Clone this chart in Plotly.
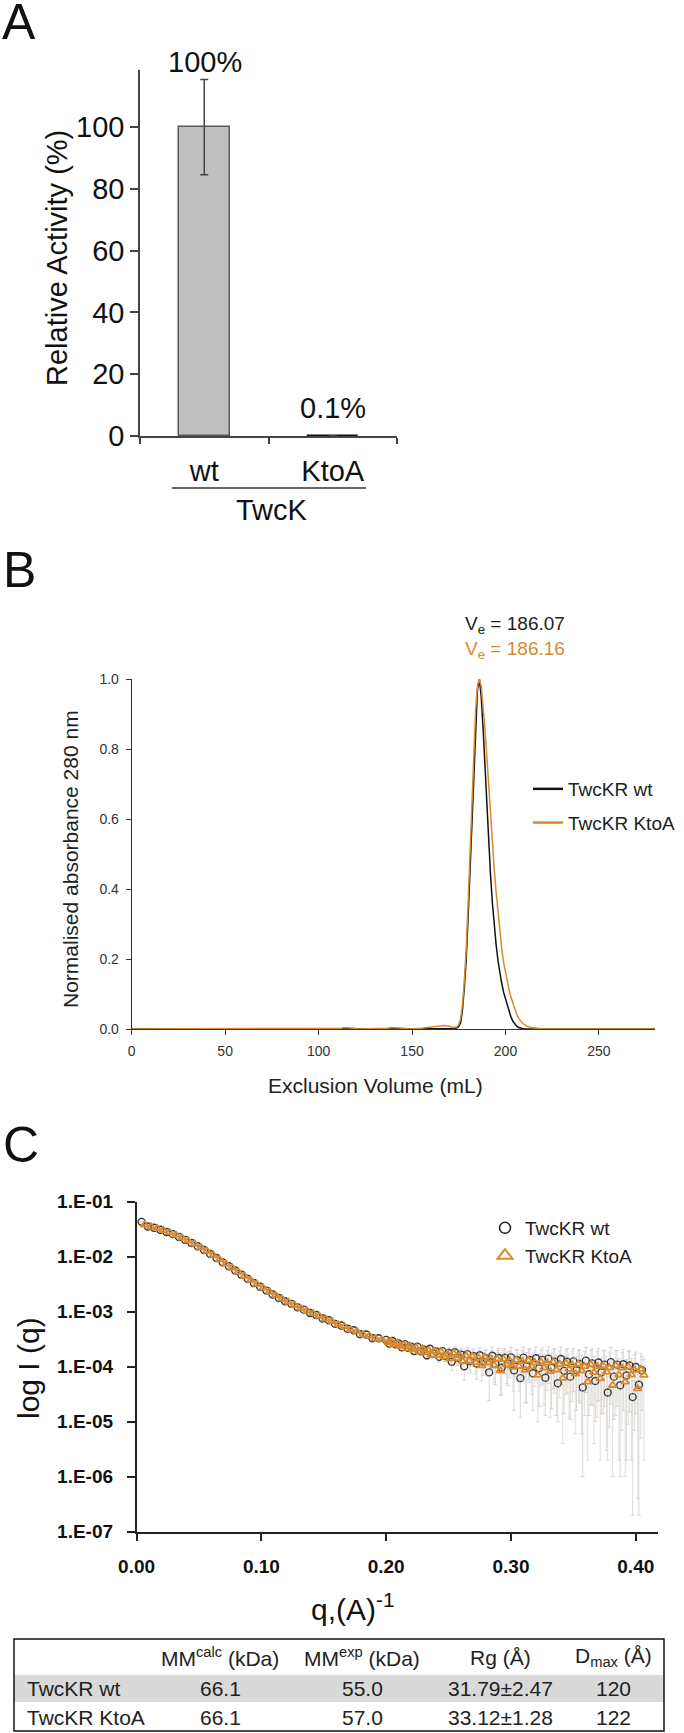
import plotly.graph_objects as go

FONT = "Liberation Sans, Arial, Helvetica, sans-serif"
W, H = 684, 1733
ORANGE = "#D98A2C"

# ---------------- Panel A data ----------------
a_categories = ["wt", "KtoA"]
a_activity = [100, 0.1]
a_err_plus = [15.3, 0]
a_err_minus = [15.5, 0]
a_labels = ["100%", "0.1%"]
a_group = "TwcK"

# ---------------- Panel B data ----------------
b_vol_wt = [0, 50, 100, 150, 170, 172,
            174, 175, 176, 177, 178, 179, 180, 181, 182, 183, 184, 185, 186, 187,
            188, 189, 190, 191, 192, 193, 194, 195, 196, 197, 198, 199, 200, 201,
            202, 203, 204, 205, 206, 207, 208,
            210, 220, 250, 280]
b_abs_wt = [0, 0, 0, 0, 0, 0.001,
            0.003, 0.007, 0.018, 0.055, 0.12, 0.20, 0.32, 0.45, 0.60, 0.75, 0.88, 0.97, 1.0, 0.95,
            0.86, 0.75, 0.63, 0.52, 0.44, 0.36, 0.29, 0.24, 0.195, 0.16, 0.13, 0.105, 0.085, 0.065,
            0.047, 0.033, 0.022, 0.014, 0.008, 0.004, 0.002,
            0, 0, 0, 0]
b_vol_ktoa = [0, 110, 112, 114, 117, 119, 121, 135, 137, 139, 144, 146, 148, 152, 155, 158, 161, 164, 167, 170, 172,
              174, 175, 176, 177, 178, 179, 180, 181, 182, 183, 184, 185, 186, 187, 188, 189, 190, 191, 192,
              193, 194, 195, 196, 197, 198, 199, 200, 201, 202, 203, 204, 205, 206, 207, 208, 209, 210,
              212, 214, 216, 218, 220, 250, 280]
b_abs_ktoa = [0, 0, 0.002, 0.004, 0.004, 0.002, 0, 0, 0.002, 0.004, 0.004, 0.002, 0, 0, 0.002, 0.004, 0.006, 0.008, 0.010, 0.008, 0.004,
              0.006, 0.012, 0.03, 0.07, 0.14, 0.23, 0.36, 0.50, 0.65, 0.79, 0.91, 0.98, 1.0, 0.98, 0.93, 0.86, 0.78, 0.69, 0.60,
              0.52, 0.455, 0.39, 0.33, 0.275, 0.23, 0.19, 0.16, 0.133, 0.11, 0.09, 0.072, 0.056, 0.042, 0.031, 0.023, 0.017, 0.013,
              0.007, 0.004, 0.002, 0.001, 0, 0, 0]
b_names = ["TwcKR wt", "TwcKR KtoA"]
b_ve = [186.07, 186.16]

# ---------------- Panel C data ----------------
c_q_wt = [0.004, 0.009, 0.014, 0.019, 0.024, 0.029, 0.034, 0.039, 0.044, 0.049,
          0.054, 0.059, 0.064, 0.069, 0.074, 0.079, 0.084, 0.089, 0.094, 0.099,
          0.104, 0.109, 0.114, 0.119, 0.124, 0.129, 0.134, 0.139, 0.144, 0.149,
          0.154, 0.159, 0.164, 0.169, 0.174, 0.179, 0.184, 0.189, 0.194,
          0.2000, 0.2025, 0.2050, 0.2075, 0.2100, 0.2125, 0.2150, 0.2175, 0.2200, 0.2225,
          0.2250, 0.2275, 0.2300, 0.2325, 0.2350, 0.2375, 0.2400, 0.2425, 0.2450, 0.2475,
          0.2500, 0.2525, 0.2550, 0.2575, 0.2600, 0.2625, 0.2650, 0.2675, 0.2700, 0.2725,
          0.2750, 0.2775, 0.2800, 0.2825, 0.2850, 0.2875, 0.2900, 0.2925, 0.2950, 0.2975,
          0.3000, 0.3025, 0.3050, 0.3075, 0.3100, 0.3125, 0.3150, 0.3175, 0.3200, 0.3225,
          0.3250, 0.3275, 0.3300, 0.3325, 0.3350, 0.3375, 0.3400, 0.3425, 0.3450, 0.3475,
          0.3500, 0.3525, 0.3550, 0.3575, 0.3600, 0.3625, 0.3650, 0.3675, 0.3700, 0.3725,
          0.3750, 0.3775, 0.3800, 0.3825, 0.3850, 0.3875, 0.3900, 0.3925, 0.3950, 0.3975,
          0.4000, 0.4025, 0.4050]
c_I_wt = [4.3e-2, 3.55e-2, 3.35e-2, 3.09e-2, 2.82e-2, 2.57e-2, 2.29e-2, 2.02e-2, 1.78e-2, 1.55e-2,
          1.32e-2, 1.12e-2, 9.5e-3, 7.9e-3, 6.7e-3, 5.6e-3, 4.7e-3, 3.98e-3, 3.33e-3, 2.84e-3,
          2.42e-3, 2.05e-3, 1.77e-3, 1.55e-3, 1.39e-3, 1.20e-3, 1.09e-3, 9.5e-4, 8.7e-4, 7.5e-4,
          7.0e-4, 6.0e-4, 5.6e-4, 4.9e-4, 4.6e-4, 3.9e-4, 3.85e-4, 3.3e-4, 3.3e-4,
          3.07e-4, 2.63e-4, 2.94e-4, 2.55e-4, 2.64e-4, 2.25e-4, 2.57e-4, 2.21e-4, 2.32e-4, 1.92e-4,
          2.32e-4, 1.91e-4, 2.05e-4, 1.62e-4, 2.12e-4, 1.75e-4, 1.90e-4, 1.51e-4, 1.92e-4, 1.57e-4,
          1.78e-4, 1.23e-4, 1.83e-4, 1.45e-4, 1.66e-4, 1.02e-4, 1.69e-4, 1.27e-4, 1.56e-4, 1.14e-4,
          1.61e-4, 1.24e-4, 1.42e-4, 7.9e-5, 1.58e-4, 1.12e-4, 1.44e-4, 9.6e-5, 1.45e-4, 1.15e-4,
          1.48e-4, 8.6e-5, 1.31e-4, 6.2e-5, 1.46e-4, 1.02e-4, 1.32e-4, 7.6e-5, 1.42e-4, 9.4e-5,
          1.33e-4, 6.3e-5, 1.40e-4, 9.7e-5, 1.23e-4, 5.0e-5, 1.38e-4, 8.4e-5, 1.23e-4, 6.6e-5,
          1.25e-4, 8.6e-5, 1.12e-4, 4.2e-5, 1.29e-4, 7.3e-5, 1.15e-4, 5.5e-5, 1.19e-4, 7.9e-5,
          1.09e-4, 3.4e-5, 1.21e-4, 6.6e-5, 1.09e-4, 4.6e-5, 1.11e-4, 6.9e-5, 1.05e-4, 2.8e-5,
          9.9e-5, 4.7e-5, 8.6e-5]
c_err_wt = [0, 0, 0, 0, 0, 0, 0, 0, 0, 0,
            0, 0, 0, 0, 0, 0, 0, 0, 0, 0,
            0, 0, 0, 0, 0, 0, 0, 0, 0, 0,
            0, 0, 0, 0, 0, 0, 0, 0, 0,
            1.8e-5, 1.6e-5, 1.9e-5, 1.7e-5, 1.8e-5, 1.6e-5, 2.0e-5, 1.8e-5, 2.1e-5, 1.9e-5,
            2.6e-5, 2.4e-5, 2.8e-5, 2.6e-5, 3.0e-5, 2.8e-5, 3.2e-5, 3.0e-5, 3.4e-5, 3.2e-5,
            4.0e-5, 3.8e-5, 4.5e-5, 4.2e-5, 5.0e-5, 4.5e-5, 5.5e-5, 5.0e-5, 5.5e-5, 5.5e-5,
            6.0e-5, 5.5e-5, 6.0e-5, 5.5e-5, 6.5e-5, 6.5e-5, 7.0e-5, 6.5e-5, 7.0e-5, 7.0e-5,
            7.5e-5, 7.0e-5, 7.5e-5, 5.0e-5, 8.0e-5, 8.0e-5, 8.0e-5, 6.0e-5, 8.5e-5, 7.5e-5,
            8.5e-5, 5.0e-5, 9.0e-5, 8.0e-5, 9.0e-5, 4.0e-5, 9.0e-5, 7.0e-5, 9.0e-5, 5.5e-5,
            9.0e-5, 7.0e-5, 9.0e-5, 4.1e-5, 9.5e-5, 6.0e-5, 9.5e-5, 4.5e-5, 9.5e-5, 6.5e-5,
            9.0e-5, 3.2e-5, 1.0e-4, 5.5e-5, 9.0e-5, 4.5e-5, 9.5e-5, 6.7e-5, 9.0e-5, 2.78e-5,
            8.5e-5, 4.68e-5, 7.0e-5]
c_q_ktoa = [0.0065, 0.0115, 0.0165, 0.0215, 0.0265, 0.0315, 0.0365, 0.0415, 0.0465, 0.0515,
            0.0565, 0.0615, 0.0665, 0.0715, 0.0765, 0.0815, 0.0865, 0.0915, 0.0965, 0.1015,
            0.1065, 0.1115, 0.1165, 0.1215, 0.1265, 0.1315, 0.1365, 0.1415, 0.1465, 0.1515,
            0.1565, 0.1615, 0.1665, 0.1715, 0.1765, 0.1815, 0.1865, 0.1915, 0.1965,
            0.2015, 0.2040, 0.2065, 0.2090, 0.2115, 0.2140, 0.2165, 0.2190, 0.2215, 0.2240,
            0.2265, 0.2290, 0.2315, 0.2340, 0.2365, 0.2390, 0.2415, 0.2440, 0.2465, 0.2490,
            0.2515, 0.2540, 0.2565, 0.2590, 0.2615, 0.2640, 0.2665, 0.2690, 0.2715, 0.2740,
            0.2765, 0.2790, 0.2815, 0.2840, 0.2865, 0.2890, 0.2915, 0.2940, 0.2965, 0.2990,
            0.3015, 0.3040, 0.3065, 0.3090, 0.3115, 0.3140, 0.3165, 0.3190, 0.3215, 0.3240,
            0.3265, 0.3290, 0.3315, 0.3340, 0.3365, 0.3390, 0.3415, 0.3440, 0.3465, 0.3490,
            0.3515, 0.3540, 0.3565, 0.3590, 0.3615, 0.3640, 0.3665, 0.3690, 0.3715, 0.3740,
            0.3765, 0.3790, 0.3815, 0.3840, 0.3865, 0.3890, 0.3915, 0.3940, 0.3965, 0.3990,
            0.4015, 0.4040, 0.4065]
c_I_ktoa = [3.8e-2, 3.5e-2, 3.28e-2, 3.02e-2, 2.76e-2, 2.48e-2, 2.2e-2, 1.94e-2, 1.7e-2, 1.47e-2,
            1.26e-2, 1.06e-2, 8.9e-3, 7.4e-3, 6.3e-3, 5.3e-3, 4.45e-3, 3.75e-3, 3.16e-3, 2.7e-3,
            2.3e-3, 1.98e-3, 1.72e-3, 1.5e-3, 1.32e-3, 1.16e-3, 1.04e-3, 9.3e-4, 8.3e-4, 7.4e-4,
            6.7e-4, 5.8e-4, 5.4e-4, 4.7e-4, 4.4e-4, 3.8e-4, 3.65e-4, 3.2e-4, 3.1e-4,
            2.77e-4, 2.91e-4, 2.52e-4, 2.73e-4, 2.37e-4, 2.50e-4, 2.14e-4, 2.38e-4, 2.05e-4, 2.21e-4,
            1.88e-4, 2.14e-4, 1.80e-4, 1.98e-4, 1.64e-4, 1.92e-4, 1.62e-4, 1.87e-4, 1.53e-4, 1.71e-4,
            1.41e-4, 1.75e-4, 1.42e-4, 1.61e-4, 1.24e-4, 1.57e-4, 1.28e-4, 1.53e-4, 1.19e-4, 1.44e-4,
            1.05e-4, 1.48e-4, 1.18e-4, 1.39e-4, 1.06e-4, 1.38e-4, 8.5e-5, 1.37e-4, 1.09e-4, 1.28e-4,
            9.8e-5, 1.32e-4, 1.02e-4, 1.26e-4, 8.7e-5, 1.30e-4, 1.01e-4, 1.19e-4, 7.0e-5, 1.22e-4,
            9.5e-5, 1.17e-4, 8.2e-5, 1.22e-4, 8.8e-5, 1.10e-4, 6.2e-5, 1.16e-4, 9.0e-5, 1.08e-4,
            7.4e-5, 1.12e-4, 8.4e-5, 1.01e-4, 5.3e-5, 1.10e-4, 7.9e-5, 1.02e-4, 6.1e-5, 1.04e-4,
            8.0e-5, 9.6e-5, 4.6e-5, 1.05e-4, 7.1e-5, 9.5e-5, 5.3e-5, 9.9e-5, 7.1e-5, 8.7e-5,
            4.0e-5, 9.0e-5, 7.0e-5]
c_err_ktoa = [0, 0, 0, 0, 0, 0, 0, 0, 0, 0,
              0, 0, 0, 0, 0, 0, 0, 0, 0, 0,
              0, 0, 0, 0, 0, 0, 0, 0, 0, 0,
              0, 0, 0, 0, 0, 0, 0, 0, 0,
              1.5e-5, 1.6e-5, 1.5e-5, 1.7e-5, 1.6e-5, 1.7e-5, 1.6e-5, 1.8e-5, 1.7e-5, 1.9e-5,
              2.2e-5, 2.4e-5, 2.3e-5, 2.6e-5, 2.5e-5, 2.8e-5, 2.7e-5, 3.0e-5, 2.9e-5, 3.2e-5,
              3.5e-5, 3.8e-5, 3.7e-5, 4.0e-5, 3.9e-5, 4.3e-5, 4.2e-5, 4.6e-5, 4.5e-5, 4.9e-5,
              5.0e-5, 5.3e-5, 5.2e-5, 5.6e-5, 5.5e-5, 5.9e-5, 5.5e-5, 6.2e-5, 6.0e-5, 6.5e-5,
              6.3e-5, 6.8e-5, 6.6e-5, 7.0e-5, 6.5e-5, 7.3e-5, 7.0e-5, 7.5e-5, 6.0e-5, 7.8e-5,
              7.5e-5, 8.0e-5, 7.0e-5, 8.2e-5, 7.5e-5, 8.3e-5, 5.8e-5, 8.5e-5, 7.8e-5, 8.5e-5,
              6.8e-5, 8.8e-5, 7.8e-5, 8.8e-5, 5.1e-5, 9.0e-5, 7.5e-5, 9.0e-5, 5.9e-5, 9.0e-5,
              7.7e-5, 8.8e-5, 4.5e-5, 9.2e-5, 6.9e-5, 8.8e-5, 5.2e-5, 9.0e-5, 6.9e-5, 8.0e-5,
              3.96e-5, 8.5e-5, 6.8e-5]
c_names = ["TwcKR wt", "TwcKR KtoA"]
c_ytick_vals = [1e-1, 1e-2, 1e-3, 1e-4, 1e-5, 1e-6, 1e-7]
c_ytick_text = ["1.E-01", "1.E-02", "1.E-03", "1.E-04", "1.E-05", "1.E-06", "1.E-07"]

# ---------------- Table data ----------------
t_header = ["", "MM<sup>calc</sup> (kDa)", "MM<sup>exp</sup> (kDa)", "Rg (Å)", "D<sub>max</sub> (Å)"]
t_rows = ["TwcKR wt", "TwcKR KtoA"]
t_mm_calc = [66.1, 66.1]
t_mm_exp = [55.0, 57.0]
t_rg = [31.79, 33.12]
t_rg_err = [2.47, 1.28]
t_dmax = [120, 122]

for a, b in [(b_vol_wt, b_abs_wt), (b_vol_ktoa, b_abs_ktoa), (c_q_wt, c_I_wt), (c_q_wt, c_err_wt),
             (c_q_ktoa, c_I_ktoa), (c_q_ktoa, c_err_ktoa)]:
    assert len(a) == len(b), (len(a), len(b))


def px(x):
    return x / W


def py(y):
    return 1 - y / H


fig = go.Figure()

# Panel A bars
fig.add_trace(go.Bar(
    x=a_categories, y=a_activity, xaxis="x", yaxis="y", width=0.4,
    marker=dict(color="#c0c0c0", line=dict(color=["#5a5a5a", "#111111"], width=[1.5, 2.5])),
    error_y=dict(type="data", array=a_err_plus, arrayminus=a_err_minus, symmetric=False,
                 color="#444444", thickness=1.5, width=4),
    showlegend=False,
))

# Panel B lines
fig.add_trace(go.Scatter(x=b_vol_wt, y=b_abs_wt, xaxis="x2", yaxis="y2", mode="lines",
                         line=dict(color="#111111", width=1.5), showlegend=False))
fig.add_trace(go.Scatter(x=b_vol_ktoa, y=b_abs_ktoa, xaxis="x2", yaxis="y2", mode="lines",
                         line=dict(color=ORANGE, width=1.5), showlegend=False))
for name, col, grp in [(b_names[0], "#111111", "b1"), (b_names[1], ORANGE, "b2")]:
    fig.add_trace(go.Scatter(x=[None], y=[None], xaxis="x2", yaxis="y2", mode="lines",
                             line=dict(color=col, width=2.5), name=name, legend="legend",
                             legendgroup=grp))

# Panel C scatter
fig.add_trace(go.Scatter(
    x=c_q_wt, y=c_I_wt, xaxis="x3", yaxis="y3", mode="markers",
    marker=dict(symbol="circle-open", size=7, color="#333333", line=dict(width=1.4)),
    error_y=dict(type="data", array=c_err_wt, color="rgba(185,185,185,0.55)", thickness=1, width=2),
    showlegend=False))
fig.add_trace(go.Scatter(
    x=c_q_ktoa, y=c_I_ktoa, xaxis="x3", yaxis="y3", mode="markers",
    marker=dict(symbol="triangle-up-open", size=7, color=ORANGE, line=dict(width=1.8)),
    error_y=dict(type="data", array=c_err_ktoa, color="rgba(200,190,180,0.5)", thickness=1, width=2),
    showlegend=False))
fig.add_trace(go.Scatter(x=[None], y=[None], xaxis="x3", yaxis="y3", mode="markers",
                         marker=dict(symbol="circle-open", size=11, color="#222222", line=dict(width=1.5)),
                         name=c_names[0], legend="legend2"))
fig.add_trace(go.Scatter(x=[None], y=[None], xaxis="x3", yaxis="y3", mode="markers",
                         marker=dict(symbol="triangle-up-open", size=13, color=ORANGE, line=dict(width=2)),
                         name=c_names[1], legend="legend2"))

axcommon = dict(showgrid=False, zeroline=False, showline=True, ticks="outside")

fig.update_layout(
    width=W, height=H, autosize=False,
    margin=dict(l=0, r=0, t=0, b=0),
    paper_bgcolor="white", plot_bgcolor="white",
    font=dict(family=FONT, color="#111111"),
    template="none",
    bargap=0,
    # Panel A
    xaxis=dict(domain=[px(140), px(397)], anchor="y", type="category", categoryarray=a_categories,
               range=[-0.5, 1.5], tickson="boundaries", ticklen=6, linecolor="#444444", linewidth=1.5,
               tickcolor="#444444", tickwidth=1.5, tickfont=dict(size=29, color="#111111"),
               ticklabelstandoff=8, **axcommon),
    yaxis=dict(domain=[py(436), py(70)], anchor="x", range=[0, 118.4], dtick=20, ticklen=8,
               linecolor="#444444", linewidth=1.5, tickcolor="#444444", tickwidth=1.5,
               tickfont=dict(size=29, color="#111111"), **axcommon),
    # Panel B
    xaxis2=dict(domain=[px(131.7), px(655)], anchor="y2", range=[0, 280], dtick=50, ticklen=5,
                linecolor="#333333", linewidth=1, tickcolor="#333333",
                tickfont=dict(size=14, color="#333333"), ticklabelstandoff=4, **axcommon),
    yaxis2=dict(domain=[py(1029), py(679)], anchor="x2", range=[0, 1.0], dtick=0.2, tickformat=".1f",
                ticklen=5, linecolor="#333333", linewidth=1, tickcolor="#333333",
                tickfont=dict(size=14, color="#333333"), ticklabelstandoff=4, **axcommon),
    # Panel C
    xaxis3=dict(domain=[px(136.6), px(657.5)], anchor="y3", range=[0, 0.4174], dtick=0.1,
                tickformat=".2f", ticklen=8, linecolor="#222222", linewidth=1.5, tickcolor="#222222",
                tickwidth=1.5, tickfont=dict(size=19, color="#111111", weight="bold"),
                ticklabelstandoff=9, **axcommon),
    yaxis3=dict(domain=[py(1531.7), py(1201.7)], anchor="x3", type="log", range=[-7, -1],
                tickvals=c_ytick_vals, ticktext=c_ytick_text, ticklen=8, linecolor="#222222",
                linewidth=1.5, tickcolor="#222222", tickwidth=1.5,
                tickfont=dict(size=19, color="#111111", weight="bold"), ticklabelstandoff=10, **axcommon),
    legend=dict(x=px(528), y=py(770), xanchor="left", yanchor="top", bgcolor="rgba(0,0,0,0)",
                font=dict(size=19, color="#222222"), traceorder="grouped", tracegroupgap=6),
    legend2=dict(x=px(485), y=py(1209), xanchor="left", yanchor="top", bgcolor="rgba(0,0,0,0)",
                 font=dict(size=19, color="#222222")),
)

ann = []


def add_text(text, x, y, size, color="#111111", angle=0, xanchor="center", weight="normal"):
    ann.append(dict(text=text, x=x, y=y, xref="paper", yref="paper", showarrow=False,
                    xanchor=xanchor, yanchor="middle", textangle=angle,
                    font=dict(size=size, color=color, family=FONT, weight=weight)))


# Panel letters
add_text("A", px(0), py(22), 50, xanchor="left")
add_text("B", px(1), py(570), 50, xanchor="left")
add_text("C", px(1), py(1145), 50, xanchor="left")

# Panel A labels
add_text(a_labels[0], px(205), py(62), 29)
ann.append(dict(text=a_labels[1], x=a_categories[1], y=a_activity[1] + 9.1,
                xref="x", yref="y", showarrow=False, yanchor="middle",
                font=dict(size=29, color="#111111", family=FONT)))
add_text("Relative Activity (%)", px(57), py(258), 29, angle=-90)
add_text(a_group, px(272), py(510), 29)

# Panel B texts
add_text("V<sub>e</sub> = %.2f" % b_ve[0], px(515), py(625), 19, color="#222222")
add_text("V<sub>e</sub> = %.2f" % b_ve[1], px(515), py(650), 19, color=ORANGE)
add_text("Normalised absorbance 280 nm", px(70), py(859), 21, color="#222222", angle=-90)
add_text("Exclusion Volume (mL)", px(375), py(1085), 21, color="#222222")

# Panel C texts
add_text("log I (q)", px(28), py(1368), 30, angle=-90)
add_text("q,(A)<sup>-1</sup>", px(353), py(1607), 30)

# Table
col_x = [25, 220, 362, 500, 613]
row_y = [1657, 1688, 1717]
for i, h in enumerate(t_header):
    if h:
        add_text(h, px(col_x[i]), py(row_y[0]), 21, color="#222222")
for r in range(2):
    add_text(t_rows[r], px(col_x[0]), py(row_y[r + 1]), 21, color="#222222", xanchor="left")
    add_text("%.1f" % t_mm_calc[r], px(col_x[1]), py(row_y[r + 1]), 21, color="#222222")
    add_text("%.1f" % t_mm_exp[r], px(col_x[2]), py(row_y[r + 1]), 21, color="#222222")
    add_text("%.2f±%.2f" % (t_rg[r], t_rg_err[r]), px(col_x[3]), py(row_y[r + 1]), 21, color="#222222")
    add_text("%d" % t_dmax[r], px(col_x[4]), py(row_y[r + 1]), 21, color="#222222")

shapes = [
    dict(type="line", xref="paper", yref="paper", x0=px(172), x1=px(366), y0=py(488), y1=py(488),
         line=dict(color="#333333", width=1.5)),
    dict(type="rect", xref="paper", yref="paper", x0=px(14), x1=px(664), y0=py(1702), y1=py(1675),
         fillcolor="#d9d9d9", line=dict(width=0), layer="below"),
    dict(type="rect", xref="paper", yref="paper", x0=px(14), x1=px(664), y0=py(1731), y1=py(1639),
         line=dict(color="#111111", width=1.5), fillcolor="rgba(0,0,0,0)"),
]

fig.update_layout(annotations=ann, shapes=shapes)
fig.write_html("out.html", config={"displayModeBar": False},
               post_script="document.body.style.margin='0px';document.body.style.padding='0px';")
